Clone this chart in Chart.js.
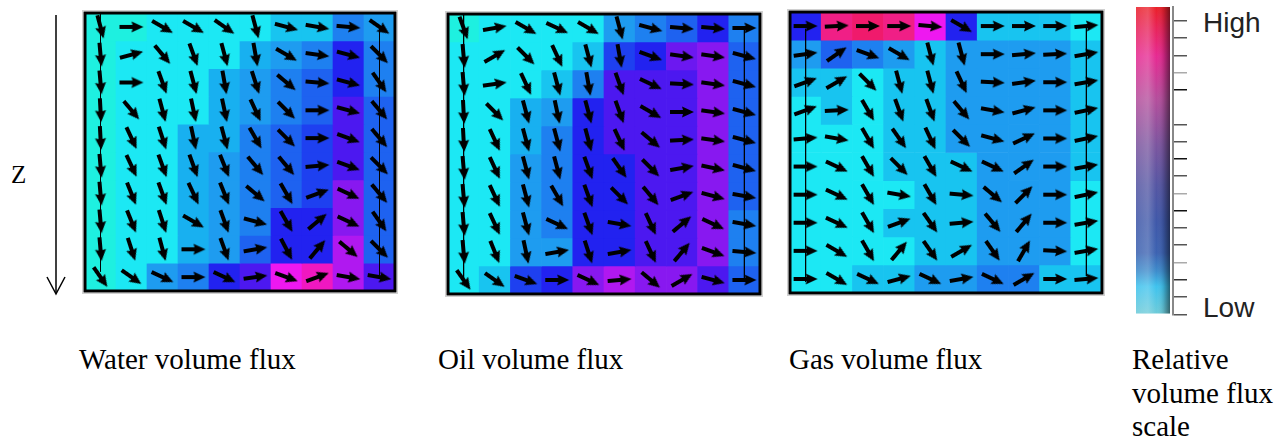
<!DOCTYPE html>
<html>
<head>
<meta charset="utf-8">
<script src="https://cdn.jsdelivr.net/npm/chart.js@4.4.0/dist/chart.umd.min.js"></script>
<style>
    body { margin: 0; background: #fff; width: 1288px; height: 443px; position: relative; overflow: hidden; }
    .box { position: absolute; }
    .lbl { position: absolute; font-family: "Liberation Serif", "Times New Roman", serif; font-size: 29px; line-height: 33.5px; color: #000; white-space: nowrap; }
    .hl { position: absolute; font-family: "Liberation Sans", Arial, sans-serif; font-size: 28px; line-height: 28px; color: #222; }
</style>
</head>
<body>
<svg class="box" style="left:0;top:0" width="80" height="310">
    <line x1="56" y1="15" x2="56" y2="293" stroke="#000" stroke-width="1.5"/>
    <polyline points="47,277 56,294 65,277" fill="none" stroke="#000" stroke-width="1.5"/>
</svg>
<div class="lbl" style="left:11px;top:162px;font-size:25px;line-height:25px">Z</div>

<canvas id="water" class="box" style="left:80px;top:8px" width="320" height="288"></canvas>
<canvas id="oil" class="box" style="left:443px;top:9px" width="322" height="290"></canvas>
<canvas id="gas" class="box" style="left:785px;top:7px" width="322" height="291"></canvas>
<canvas id="scale" class="box" style="left:1130px;top:0px" width="57" height="322"></canvas>

<div class="hl" style="left:1203px;top:9px">High</div>
<div class="hl" style="left:1203px;top:294px">Low</div>

<div class="lbl" style="left:79px;top:343px">Water volume flux</div>
<div class="lbl" style="left:438px;top:343px">Oil volume flux</div>
<div class="lbl" style="left:789px;top:343px">Gas volume flux</div>
<div class="lbl" style="left:1132px;top:343px">Relative<br>volume flux<br>scale</div>

<script>
// columns (x) y capas (z, de arriba hacia abajo)
const columns = [0, 1, 2, 3, 4, 5, 6, 7, 8, 9];
const layers = [0, 1, 2, 3, 4, 5, 6, 7, 8, 9];

// nivel relativo de flujo por celda (0 = bajo ... 16 = alto)
const waterFlux = [
    [0, 0, 1, 1, 1, 1, 2, 2, 5, 4],
    [0, 1, 1, 1, 1, 3, 4, 5, 8, 5],
    [0, 1, 1, 1, 3, 4, 5, 6, 8, 5],
    [0, 1, 1, 1, 3, 4, 5, 6, 9, 6],
    [0, 1, 1, 3, 3, 5, 6, 7, 9, 6],
    [0, 1, 1, 3, 4, 5, 6, 7, 9, 6],
    [0, 1, 1, 3, 4, 5, 6, 7, 11, 6],
    [0, 1, 1, 3, 4, 5, 8, 8, 11, 6],
    [0, 1, 1, 3, 4, 6, 8, 8, 12, 6],
    [0, 1, 4, 5, 8, 9, 13, 14, 12, 9]
];
const oilFlux = [
    [0, 1, 1, 1, 1, 4, 5, 6, 8, 5],
    [1, 1, 1, 1, 2, 7, 8, 10, 11, 6],
    [1, 1, 1, 2, 5, 9, 9, 9, 11, 6],
    [1, 1, 3, 4, 8, 9, 9, 9, 11, 6],
    [1, 1, 3, 5, 8, 9, 9, 9, 11, 6],
    [1, 1, 4, 5, 8, 8, 9, 9, 11, 6],
    [1, 1, 4, 5, 8, 8, 9, 9, 11, 6],
    [1, 1, 4, 5, 8, 8, 9, 9, 11, 5],
    [1, 1, 4, 4, 8, 8, 9, 9, 11, 5],
    [1, 2, 7, 8, 11, 12, 11, 11, 9, 6]
];
const gasFlux = [
    [8, 15, 16, 15, 13, 8, 2, 2, 2, 1],
    [4, 6, 5, 4, 2, 4, 4, 4, 4, 2],
    [2, 2, 1, 2, 2, 4, 4, 4, 4, 2],
    [1, 2, 1, 2, 2, 4, 4, 4, 4, 2],
    [1, 1, 1, 2, 2, 4, 4, 4, 4, 2],
    [1, 1, 1, 2, 2, 2, 4, 4, 4, 2],
    [1, 1, 1, 1, 2, 2, 4, 4, 4, 1],
    [1, 1, 1, 2, 2, 2, 4, 4, 4, 1],
    [1, 1, 1, 1, 2, 2, 4, 4, 4, 1],
    [1, 1, 2, 2, 4, 4, 5, 5, 2, 2]
];

// direccion del flujo en grados (0 = derecha, 90 = hacia abajo)
const waterDir = [
    [75, 0, 30, 30, 35, 75, 15, 10, 5, 35],
    [85, -15, 50, 70, 75, 80, 30, 8, 15, 45],
    [85, 0, 70, 75, 80, 72, 40, 5, 15, 55],
    [87, 50, 75, 78, 78, 65, 45, 0, 15, 50],
    [87, 65, 72, 78, 75, 60, 45, 0, 20, 50],
    [85, 65, 70, 70, 68, 50, 50, -5, 20, 45],
    [85, 68, 70, 65, 68, 40, 60, -20, 25, 50],
    [85, 68, 72, 30, 70, 15, 60, -40, 25, 55],
    [85, 72, 75, 0, 70, -10, 62, -50, 40, 45],
    [55, 35, 25, 0, 25, -8, 20, -20, 10, 10]
];
const oilDir = [
    [70, -10, 30, 25, 30, 75, 15, 5, 5, 0],
    [85, -30, 45, 65, 75, 80, 20, 8, 8, 15],
    [85, -8, 65, 75, 80, 70, 25, 3, 8, 15],
    [87, 45, 75, 78, 75, 70, 30, 0, 8, 15],
    [87, 65, 75, 75, 75, 65, 40, -3, 8, 15],
    [85, 65, 75, 75, 70, 55, 45, -10, 12, 15],
    [85, 65, 75, 60, 70, 45, 50, -20, 15, 10],
    [85, 65, 75, 25, 70, 10, 65, -40, 25, 10],
    [85, 68, 78, -10, 72, -10, 65, -50, 20, 5],
    [55, 35, 20, 0, 25, -5, 40, -30, 15, 0]
];
const gasDir = [
    [0, -3, 0, 0, 5, 30, 0, 0, 0, -5],
    [-8, -35, 20, 30, 75, 75, 0, -5, -3, -10],
    [-20, -30, 45, 75, 75, 65, 3, -8, 0, -10],
    [-20, -3, 60, 70, 70, 50, 10, -15, 0, -12],
    [-5, 10, 60, 55, 65, 45, 15, -25, 0, -12],
    [0, 25, 60, 45, 60, 25, 25, -35, 0, -10],
    [0, 25, 60, 10, 60, 5, 40, -45, 0, -12],
    [0, 25, 60, -20, 55, -5, 50, -50, 0, -10],
    [0, 30, 60, -50, 55, -30, 55, -60, 3, -10],
    [0, 30, 25, -15, 25, -10, 25, -30, 0, -5]
];

// pozos: columna y tramo en capas
const waterWells = [{ col: 0, from: 0, to: 9.3 }, { col: 9, from: 0.55, to: 9.5 }];
const oilWells = [{ col: 0, from: 0, to: 9.6 }, { col: 9, from: 0.55, to: 9.45 }];
const gasWells = [{ col: 0, from: 0.6, to: 9.6 }, { col: 9, from: 0.5, to: 9.4 }];

// escala de colores de los niveles
const palette = ['#1ef0e0', '#1ce8f4', '#18c4f0', '#18b0f0', '#1e9cf0', '#1e80f0', '#1e62f0', '#1e40f0',
    '#2222f0', '#4c18f0', '#6c18f0', '#8818f0', '#b018f0', '#ee18f0', '#f018c0', '#f01f86', '#f01a6c'];

// barra de escala
const scaleTicks = [0, 1, 2, 3, 4, 5, 6, 7, 8, 9, 10, 11, 13, 14, 15, 16, 17];
const scaleMax = 17.8;
const scaleStops = [[0, '#ea2028'], [0.07, '#e8245a'], [0.16, '#e62a92'], [0.3, '#b44e9c'], [0.45, '#7b559f'],
    [0.58, '#5556a3'], [0.7, '#3f58a9'], [0.8, '#3c62b1'], [0.86, '#3d8ccc'], [0.91, '#3fc3ee'], [1, '#6fcbd8']];

function makeArrow() {
    const c = document.createElement('canvas');
    c.width = 26;
    c.height = 14;
    const g = c.getContext('2d');
    g.fillStyle = '#000';
    g.beginPath();
    g.moveTo(1, 5);
    g.lineTo(14, 5);
    g.lineTo(13, 1.5);
    g.lineTo(25, 7);
    g.lineTo(13, 12.5);
    g.lineTo(14, 9);
    g.lineTo(1, 9);
    g.closePath();
    g.fill();
    return c;
}
const arrowImg = makeArrow();

const framePlugin = {
    id: 'frame',
    afterDraw(chart) {
        const a = chart.chartArea;
        const c = chart.ctx;
        c.save();
        c.strokeStyle = '#d0d0d0';
        c.lineWidth = 1;
        c.strokeRect(a.left - 2.5, a.top - 2.5, a.right - a.left + 5, a.bottom - a.top + 5);
        c.strokeStyle = '#000';
        c.lineWidth = 3;
        c.strokeRect(a.left, a.top, a.right - a.left, a.bottom - a.top);
        c.restore();
    }
};

function makePanel(id, flux, dir, wells) {
    const datasets = [];
    layers.forEach(function (layer, li) {
        datasets.push({
            type: 'bar',
            data: columns.map(() => [layer, layer + 1]),
            backgroundColor: flux[li].map(v => palette[v]),
            borderWidth: 0,
            barPercentage: 1,
            categoryPercentage: 1,
            grouped: false,
            order: 3
        });
    });
    wells.forEach(function (w) {
        datasets.push({
            type: 'line',
            data: [{ x: w.col, y: w.from }, { x: w.col, y: w.to }],
            borderColor: '#000',
            borderWidth: 1,
            pointRadius: 0,
            order: 2
        });
    });
    layers.forEach(function (layer, li) {
        datasets.push({
            type: 'scatter',
            data: columns.map(() => layer + 0.5),
            pointStyle: arrowImg,
            pointRotation: ctx => dir[li][ctx.dataIndex],
            order: 1
        });
    });

    new Chart(document.getElementById(id), {
        type: 'bar',
        data: { labels: columns, datasets: datasets },
        options: {
            responsive: false,
            animation: false,
            events: [],
            layout: { padding: 3 },
            plugins: { legend: { display: false }, tooltip: { enabled: false } },
            scales: {
                x: { type: 'category', display: false, offset: true },
                y: { type: 'linear', display: false, min: 0, max: 10, reverse: true }
            }
        },
        plugins: [framePlugin]
    });
}

makePanel('water', waterFlux, waterDir, waterWells);
makePanel('oil', oilFlux, oilDir, oilWells);
makePanel('gas', gasFlux, gasDir, gasWells);

// barra de escala relativa
const tickShade = { 14: '#aaa', 7: '#aaa', 3: '#aaa', 13: '#111', 9: '#111', 6: '#111', 2: '#333' };
new Chart(document.getElementById('scale'), {
    type: 'bar',
    data: {
        labels: ['scale'],
        datasets: [
            {
                data: [[0, scaleMax]],
                backgroundColor: function (ctx) {
                    const a = ctx.chart.chartArea;
                    if (!a) return '#888';
                    const g = ctx.chart.ctx.createLinearGradient(0, a.top, 0, a.bottom);
                    scaleStops.forEach(s => g.addColorStop(s[0], s[1]));
                    return g;
                },
                borderWidth: 0,
                barPercentage: 0.85,
                categoryPercentage: 1,
                grouped: false,
                order: 2
            },
            {
                data: [[0, scaleMax]],
                backgroundColor: function (ctx) {
                    const a = ctx.chart.chartArea;
                    if (!a) return 'rgba(0,0,0,0)';
                    const w = (a.right - a.left) * 0.85;
                    const x0 = (a.left + a.right - w) / 2;
                    const g = ctx.chart.ctx.createLinearGradient(x0, 0, x0 + w, 0);
                    g.addColorStop(0, 'rgba(255,255,255,0.12)');
                    g.addColorStop(0.35, 'rgba(255,255,255,0.22)');
                    g.addColorStop(0.6, 'rgba(255,255,255,0)');
                    g.addColorStop(0.8, 'rgba(0,0,0,0.12)');
                    g.addColorStop(1, 'rgba(0,0,0,0.5)');
                    return g;
                },
                borderWidth: 0,
                barPercentage: 0.85,
                categoryPercentage: 1,
                grouped: false,
                order: 1
            }
        ]
    },
    options: {
        responsive: false,
        animation: false,
        events: [],
        layout: { padding: { top: 7, bottom: 7.7, left: 3, right: 0 } },
        plugins: { legend: { display: false }, tooltip: { enabled: false } },
        scales: {
            x: { display: false },
            y: {
                position: 'right',
                min: 0,
                max: scaleMax,
                afterBuildTicks: function (axis) {
                    axis.ticks = scaleTicks.map(v => ({ value: v }));
                },
                ticks: { display: false },
                grid: {
                    drawOnChartArea: false,
                    drawTicks: true,
                    tickLength: 14,
                    lineWidth: 1.5,
                    color: ctx => (ctx.tick && tickShade[ctx.tick.value]) || '#555'
                },
                border: { display: true, color: '#888', width: 2 }
            }
        }
    }
});
</script>
</body>
</html>
